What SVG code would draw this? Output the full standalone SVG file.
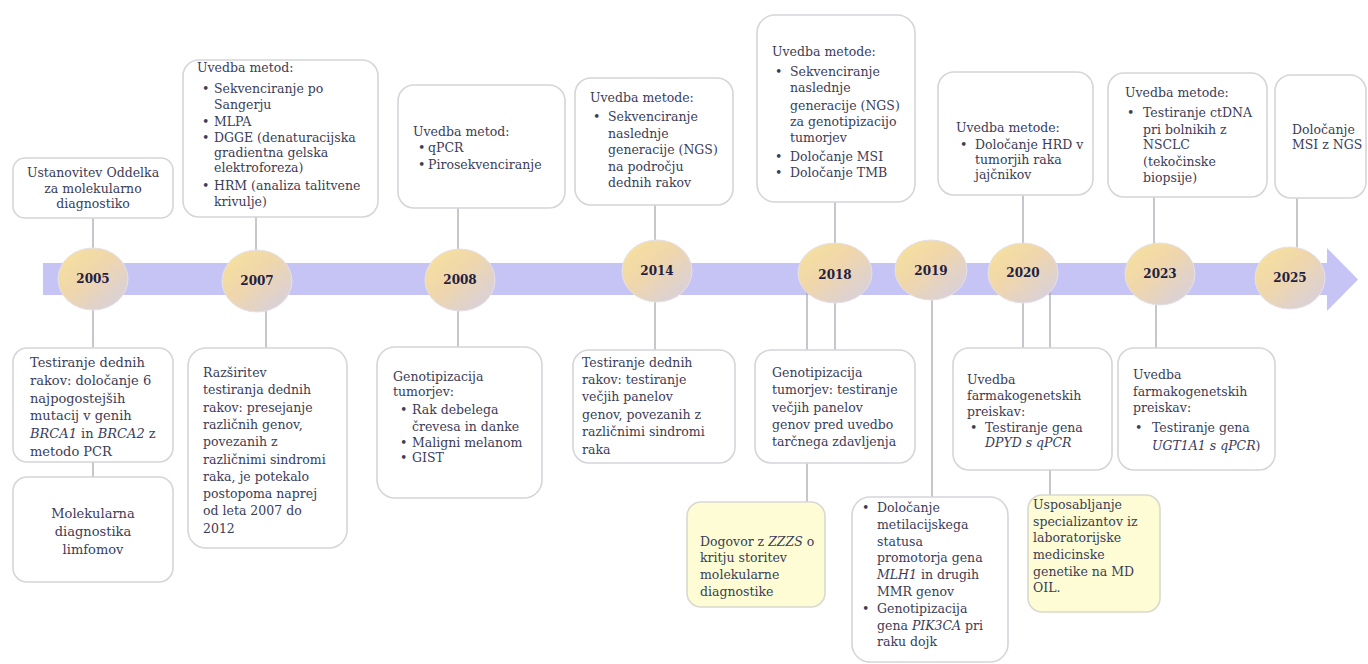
<svg xmlns="http://www.w3.org/2000/svg" width="1368" height="664" viewBox="0 0 1368 664">
  <defs>
    <linearGradient id="yearFill" x1="0" y1="0" x2="1" y2="1">
      <stop offset="0" stop-color="#f8e39a"/>
      <stop offset="0.45" stop-color="#efd6ac"/>
      <stop offset="1" stop-color="#d3cfe6"/>
    </linearGradient>
    <style>
      .box { fill: #ffffff; stroke: #d5d5da; stroke-width: 1.6; }
      .yel { fill: #fdfcd4; stroke: #d9d9cf; stroke-width: 1.6; }
      .conn line { stroke: #a8a8b2; stroke-width: 1.3; }
      .t { font-family: "DejaVu Serif", "Liberation Serif", serif; font-size: 12.5px; fill: #3b3c58; }
      .t13 { font-size: 13px; }
      .c { text-anchor: middle; }
      .i { font-style: italic; }
      .yr { font-family: "DejaVu Serif", "Liberation Serif", serif; font-size: 12px; font-weight: bold; fill: #1f2142; text-anchor: middle; }
      .yc { fill: url(#yearFill); stroke: #e4e0ea; stroke-width: 1; }
    </style>
  </defs>

  <rect width="1368" height="664" fill="#ffffff"/>

  <!-- timeline band with arrow head -->
  <g id="timeline">
    <rect x="43" y="263" width="1286" height="32" fill="#c6c4f5"/>
    <polygon points="1327,248 1358,279.5 1327,311" fill="#c6c4f5"/>
  </g>

  <!-- connectors -->
  <g id="connectors" class="conn">
    <line x1="93" y1="218" x2="93" y2="280"/>
    <line x1="93" y1="280" x2="93" y2="348"/>
    <line x1="93" y1="462" x2="93" y2="477"/>
    <line x1="256" y1="217" x2="256" y2="282"/>
    <line x1="266" y1="282" x2="266" y2="348"/>
    <line x1="458" y1="208" x2="458" y2="280"/>
    <line x1="458" y1="280" x2="458" y2="347"/>
    <line x1="655" y1="205" x2="655" y2="271"/>
    <line x1="655" y1="271" x2="655" y2="350"/>
    <line x1="835" y1="202" x2="835" y2="273"/>
    <line x1="835" y1="273" x2="835" y2="350"/>
    <line x1="807" y1="290" x2="807" y2="502"/>
    <line x1="932" y1="270" x2="932" y2="497"/>
    <line x1="1023" y1="195" x2="1023" y2="273"/>
    <line x1="1023" y1="273" x2="1023" y2="348"/>
    <line x1="1050" y1="290" x2="1050" y2="495"/>
    <line x1="1154" y1="197" x2="1154" y2="274"/>
    <line x1="1156" y1="274" x2="1156" y2="348"/>
    <line x1="1297" y1="198" x2="1297" y2="278"/>
  </g>

  <!-- upper boxes -->
  <g id="n2005-top">
    <rect class="box" x="13" y="158" width="160" height="60" rx="12"/>
    <text class="t c" x="93" y="177">Ustanovitev Oddelka</text>
    <text class="t c" x="93" y="192.5">za molekularno</text>
    <text class="t c" x="93" y="208">diagnostiko</text>
  </g>

  <g id="n2007-top">
    <rect class="box" x="183" y="60" width="195" height="157" rx="16"/>
    <text class="t" x="197" y="72">Uvedba metod:</text>
    <text class="t" x="202" y="93">•</text><text class="t" x="214" y="93">Sekvenciranje po</text>
    <text class="t" x="214" y="109">Sangerju</text>
    <text class="t" x="202" y="126">•</text><text class="t" x="214" y="126">MLPA</text>
    <text class="t" x="202" y="142">•</text><text class="t" x="214" y="142">DGGE (denaturacijska</text>
    <text class="t" x="214" y="157">gradientna gelska</text>
    <text class="t" x="214" y="172">elektroforeza)</text>
    <text class="t" x="202" y="190">•</text><text class="t" x="214" y="190">HRM (analiza talitvene</text>
    <text class="t" x="214" y="206">krivulje)</text>
  </g>

  <g id="n2008-top">
    <rect class="box" x="398" y="85" width="167" height="123" rx="16"/>
    <text class="t" x="413" y="136">Uvedba metod:</text>
    <text class="t" x="418" y="152">•</text><text class="t" x="428" y="152">qPCR</text>
    <text class="t" x="418" y="169">•</text><text class="t" x="428" y="169">Pirosekvenciranje</text>
  </g>

  <g id="n2014-top">
    <rect class="box" x="575" y="78" width="158" height="127" rx="16"/>
    <text class="t" x="590" y="102">Uvedba metode:</text>
    <text class="t" x="593" y="121">•</text><text class="t" x="608" y="121">Sekvenciranje</text>
    <text class="t" x="608" y="137.5">naslednje</text>
    <text class="t" x="608" y="154">generacije (NGS)</text>
    <text class="t" x="608" y="170.5">na področju</text>
    <text class="t" x="608" y="187">dednih rakov</text>
  </g>

  <g id="n2018-top">
    <rect class="box" x="757" y="15" width="158" height="187" rx="18"/>
    <text class="t" x="772" y="56">Uvedba metode:</text>
    <text class="t" x="775" y="76">•</text><text class="t" x="790" y="76">Sekvenciranje</text>
    <text class="t" x="790" y="92">naslednje</text>
    <text class="t" x="790" y="110">generacije (NGS)</text>
    <text class="t" x="790" y="126">za genotipizacijo</text>
    <text class="t" x="790" y="142">tumorjev</text>
    <text class="t" x="775" y="161">•</text><text class="t" x="790" y="161">Določanje MSI</text>
    <text class="t" x="775" y="177">•</text><text class="t" x="790" y="177">Določanje TMB</text>
  </g>

  <g id="n2020-top">
    <rect class="box" x="938" y="72" width="155" height="123" rx="16"/>
    <text class="t" x="956" y="132">Uvedba metode:</text>
    <text class="t" x="960" y="149">•</text><text class="t" x="975" y="149">Določanje HRD v</text>
    <text class="t" x="975" y="164">tumorjih raka</text>
    <text class="t" x="975" y="179">jajčnikov</text>
  </g>

  <g id="n2023-top">
    <rect class="box" x="1108" y="73" width="159" height="124" rx="16"/>
    <text class="t" x="1125" y="97">Uvedba metode:</text>
    <text class="t" x="1127" y="117">•</text><text class="t" x="1143" y="117">Testiranje ctDNA</text>
    <text class="t" x="1143" y="134">pri bolnikih z</text>
    <text class="t" x="1143" y="149">NSCLC</text>
    <text class="t" x="1143" y="166">(tekočinske</text>
    <text class="t" x="1143" y="182">biopsije)</text>
  </g>

  <g id="n2025-top">
    <rect class="box" x="1275" y="75" width="91" height="123" rx="16"/>
    <text class="t" x="1292" y="134">Določanje</text>
    <text class="t" x="1292" y="149">MSI z NGS</text>
  </g>

  <!-- lower boxes -->
  <g id="n2005-bottom-1">
    <rect class="box" x="13" y="348" width="160" height="114" rx="14"/>
    <text class="t t13" x="30" y="367">Testiranje dednih</text>
    <text class="t t13" x="30" y="385">rakov: določanje 6</text>
    <text class="t t13" x="30" y="402.5">najpogostejših</text>
    <text class="t t13" x="30" y="420">mutacij v genih</text>
    <text class="t t13" x="30" y="438"><tspan class="i">BRCA1</tspan> in <tspan class="i">BRCA2</tspan> z</text>
    <text class="t t13" x="30" y="456">metodo PCR</text>
  </g>

  <g id="n2005-bottom-2">
    <rect class="box" x="13" y="477" width="160" height="105" rx="14"/>
    <text class="t t13 c" x="93" y="518">Molekularna</text>
    <text class="t t13 c" x="93" y="536">diagnostika</text>
    <text class="t t13 c" x="93" y="554">limfomov</text>
  </g>

  <g id="n2007-bottom">
    <rect class="box" x="188" y="348" width="159" height="200" rx="18"/>
    <text class="t" x="203" y="377">Razširitev</text>
    <text class="t" x="203" y="394.3">testiranja dednih</text>
    <text class="t" x="203" y="411.6">rakov: presejanje</text>
    <text class="t" x="203" y="428.9">različnih genov,</text>
    <text class="t" x="203" y="446.2">povezanih z</text>
    <text class="t" x="203" y="463.5">različnimi sindromi</text>
    <text class="t" x="203" y="480.8">raka, je potekalo</text>
    <text class="t" x="203" y="498.1">postopoma naprej</text>
    <text class="t" x="203" y="515.4">od leta 2007 do</text>
    <text class="t" x="203" y="532.7">2012</text>
  </g>

  <g id="n2008-bottom">
    <rect class="box" x="377" y="347" width="165" height="151" rx="18"/>
    <text class="t" x="393" y="381">Genotipizacija</text>
    <text class="t" x="393" y="396">tumorjev:</text>
    <text class="t" x="400" y="414">•</text><text class="t" x="412" y="414">Rak debelega</text>
    <text class="t" x="412" y="431">črevesa in danke</text>
    <text class="t" x="400" y="447">•</text><text class="t" x="412" y="447">Maligni melanom</text>
    <text class="t" x="400" y="462">•</text><text class="t" x="412" y="462">GIST</text>
  </g>

  <g id="n2014-bottom">
    <rect class="box" x="573" y="350" width="162" height="113" rx="16"/>
    <text class="t" x="582" y="367">Testiranje dednih</text>
    <text class="t" x="582" y="384">rakov: testiranje</text>
    <text class="t" x="582" y="401">večjih panelov</text>
    <text class="t" x="582" y="419">genov, povezanih z</text>
    <text class="t" x="582" y="436">različnimi sindromi</text>
    <text class="t" x="582" y="454">raka</text>
  </g>

  <g id="n2018-bottom">
    <rect class="box" x="755" y="350" width="160" height="113" rx="16"/>
    <text class="t" x="772" y="377">Genotipizacija</text>
    <text class="t" x="772" y="394">tumorjev: testiranje</text>
    <text class="t" x="772" y="412">večjih panelov</text>
    <text class="t" x="772" y="429">genov pred uvedbo</text>
    <text class="t" x="772" y="446">tarčnega zdavljenja</text>
  </g>

  <g id="n2018-agreement">
    <rect class="yel" x="687" y="502" width="138" height="105" rx="14"/>
    <text class="t" x="700" y="546">Dogovor z <tspan class="i">ZZZS</tspan> o</text>
    <text class="t" x="700" y="562">kritju storitev</text>
    <text class="t" x="700" y="579">molekularne</text>
    <text class="t" x="700" y="596">diagnostike</text>
  </g>

  <g id="n2019-bottom">
    <rect class="box" x="852" y="497" width="156" height="165" rx="18"/>
    <text class="t" x="862" y="512">•</text><text class="t" x="877" y="512">Določanje</text>
    <text class="t" x="877" y="528.8">metilacijskega</text>
    <text class="t" x="877" y="545.6">statusa</text>
    <text class="t" x="877" y="562.4">promotorja gena</text>
    <text class="t" x="877" y="579.2"><tspan class="i">MLH1</tspan> in drugih</text>
    <text class="t" x="877" y="596">MMR genov</text>
    <text class="t" x="862" y="612.8">•</text><text class="t" x="877" y="612.8">Genotipizacija</text>
    <text class="t" x="877" y="629.6">gena <tspan class="i">PIK3CA</tspan> pri</text>
    <text class="t" x="877" y="646.4">raku dojk</text>
  </g>

  <g id="n2020-bottom">
    <rect class="box" x="953" y="348" width="159" height="122" rx="16"/>
    <text class="t" x="967" y="384">Uvedba</text>
    <text class="t" x="967" y="400">farmakogenetskih</text>
    <text class="t" x="967" y="416">preiskav:</text>
    <text class="t" x="970" y="432">•</text><text class="t" x="985" y="432">Testiranje gena</text>
    <text class="t i" x="985" y="447">DPYD s qPCR</text>
  </g>

  <g id="n2020-training">
    <rect class="yel" x="1028" y="495" width="132" height="117" rx="14"/>
    <text class="t" x="1033" y="509">Usposabljanje</text>
    <text class="t" x="1033" y="526">specializantov iz</text>
    <text class="t" x="1033" y="542">laboratorijske</text>
    <text class="t" x="1033" y="559">medicinske</text>
    <text class="t" x="1033" y="576">genetike na MD</text>
    <text class="t" x="1033" y="592">OIL.</text>
  </g>

  <g id="n2023-bottom">
    <rect class="box" x="1118" y="348" width="157" height="122" rx="16"/>
    <text class="t" x="1133" y="379">Uvedba</text>
    <text class="t" x="1133" y="396">farmakogenetskih</text>
    <text class="t" x="1133" y="412">preiskav:</text>
    <text class="t" x="1135" y="432">•</text><text class="t" x="1152" y="432">Testiranje gena</text>
    <text class="t" x="1152" y="450"><tspan class="i">UGT1A1 s qPCR</tspan>)</text>
  </g>

  <!-- year markers -->
  <g id="y2005"><ellipse class="yc" cx="93" cy="279" rx="35" ry="31"/><text class="yr" x="93" y="283">2005</text></g>
  <g id="y2007"><ellipse class="yc" cx="257" cy="281" rx="35" ry="31"/><text class="yr" x="257" y="285">2007</text></g>
  <g id="y2008"><ellipse class="yc" cx="460" cy="280" rx="35" ry="31"/><text class="yr" x="460" y="284">2008</text></g>
  <g id="y2014"><ellipse class="yc" cx="657" cy="271" rx="35" ry="31"/><text class="yr" x="657" y="275">2014</text></g>
  <g id="y2018"><ellipse class="yc" cx="835" cy="273" rx="37" ry="30"/><text class="yr" x="835" y="279">2018</text></g>
  <g id="y2019"><ellipse class="yc" cx="931" cy="270" rx="36" ry="30"/><text class="yr" x="931" y="275">2019</text></g>
  <g id="y2020"><ellipse class="yc" cx="1023" cy="273" rx="35" ry="30"/><text class="yr" x="1023" y="277">2020</text></g>
  <g id="y2023"><ellipse class="yc" cx="1160" cy="274" rx="35" ry="31"/><text class="yr" x="1160" y="278">2023</text></g>
  <g id="y2025"><ellipse class="yc" cx="1290" cy="278" rx="35" ry="31"/><text class="yr" x="1290" y="282">2025</text></g>
</svg>
